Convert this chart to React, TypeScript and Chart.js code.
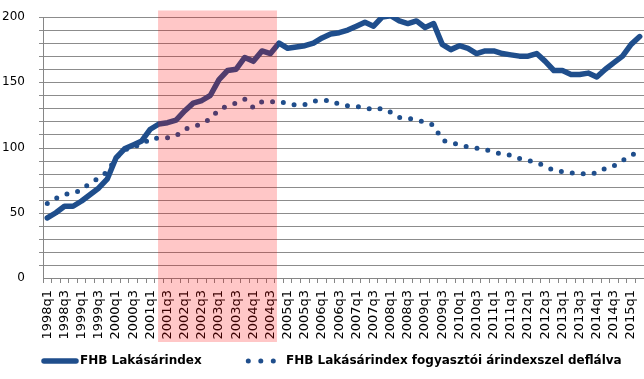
import { useEffect, useRef } from "react";
import { Chart, registerables } from "chart.js";

Chart.register(...registerables);

const quarters = [
  "1998q1", "1998q2", "1998q3", "1998q4",
  "1999q1", "1999q2", "1999q3", "1999q4",
  "2000q1", "2000q2", "2000q3", "2000q4",
  "2001q1", "2001q2", "2001q3", "2001q4",
  "2002q1", "2002q2", "2002q3", "2002q4",
  "2003q1", "2003q2", "2003q3", "2003q4",
  "2004q1", "2004q2", "2004q3", "2004q4",
  "2005q1", "2005q2", "2005q3", "2005q4",
  "2006q1", "2006q2", "2006q3", "2006q4",
  "2007q1", "2007q2", "2007q3", "2007q4",
  "2008q1", "2008q2", "2008q3", "2008q4",
  "2009q1", "2009q2", "2009q3", "2009q4",
  "2010q1", "2010q2", "2010q3", "2010q4",
  "2011q1", "2011q2", "2011q3", "2011q4",
  "2012q1", "2012q2", "2012q3", "2012q4",
  "2013q1", "2013q2", "2013q3", "2013q4",
  "2014q1", "2014q2", "2014q3", "2014q4",
  "2015q1", "2015q2",
];

const fhbIndex = [
  46, 50, 55, 55, 59, 64, 69, 76,
  92, 99, 102, 105, 114, 118, 119, 121,
  128, 134, 136, 140, 152, 159, 160, 169,
  166, 174, 172, 180, 176, 177, 178, 180,
  184, 187, 188, 190, 193, 196, 193, 200,
  201, 197, 195, 197, 192, 195, 179, 175,
  178, 176, 172, 174, 174, 172, 171, 170,
  170, 172, 166, 159, 159, 156, 156, 157,
  154, 160, 165, 170, 179, 185,
];

const fhbDeflated = [
  57, 61, 64, 65, 67.5, 73, 76.5, 81.5,
  92, 98, 101, 102, 107, 107, 107.5, 109,
  114, 116, 118, 122, 129, 132, 134, 137,
  130.5, 135, 135, 135.5, 133.5, 132.5, 133, 135.5,
  136, 136, 133, 132, 131.5, 130.5, 129, 130,
  127, 123, 122.5, 121, 119.5, 117, 105.5, 104,
  102, 100.5, 99.5, 98.5, 96.5, 95, 94, 91.5,
  90, 88.5, 85.5, 82.5, 81.5, 80.5, 80, 79.5,
  80.5, 84, 86, 90, 94, 97,
];

const yMin = 0;
const yMax = 200;
const yGridStep = 10;
const yTickLabels = [0, 50, 100, 150, 200];
const seriesNames = [
  "FHB Lakásárindex",
  "FHB Lakásárindex fogyasztói árindexszel deflálva",
];
const shadedFrom = "2001q2";
const shadedTo = "2004q4";

const BLUE = "#1f4e8c";
const AXIS = "#868686";
const GRID = "#8c8c8c";

const gridPlugin = {
  id: "hgrid",
  beforeDatasetsDraw(chart: any) {
    const ys = chart.scales.y;
    const ctx = chart.ctx;
    const { left, right } = chart.chartArea;
    ctx.save();
    ctx.fillStyle = GRID;
    for (let v = yMin + yGridStep; v <= yMax; v += yGridStep) {
      const py = Math.round(ys.getPixelForValue(v));
      ctx.fillRect(left - 4, py, right - left + 4, 1);
    }
    ctx.fillStyle = AXIS;
    const top = Math.round(ys.getPixelForValue(yMax));
    const bottom = Math.round(ys.getPixelForValue(yMin));
    ctx.fillRect(Math.round(left), top, 1, bottom - top);
    ctx.restore();
  },
};

const bandPlugin = {
  id: "band",
  afterDatasetsDraw(chart: any) {
    const xs = chart.scales.x;
    const ys = chart.scales.y;
    const ctx = chart.ctx;
    const left = xs.getPixelForValue(quarters.indexOf(shadedFrom) - 0.1);
    const right = xs.getPixelForValue(quarters.indexOf(shadedTo) - 0.25);
    const top = ys.getPixelForValue(205);
    const bottom = xs.top + 64;
    ctx.save();
    ctx.fillStyle = "rgba(255,0,0,0.22)";
    ctx.fillRect(left, top, right - left, bottom - top);
    ctx.restore();
  },
};

const legendPlugin = {
  id: "customLegend",
  afterDraw(chart: any) {
    const ctx = chart.ctx;
    const y = 361;
    ctx.save();
    ctx.strokeStyle = BLUE;
    ctx.lineCap = "round";
    ctx.lineWidth = 5.5;
    ctx.beginPath();
    ctx.moveTo(44, y);
    ctx.lineTo(76, y);
    ctx.stroke();
    ctx.lineWidth = 5;
    ctx.setLineDash([0, 12.5]);
    ctx.beginPath();
    ctx.moveTo(248.3, y);
    ctx.lineTo(275, y);
    ctx.stroke();
    ctx.setLineDash([]);
    ctx.fillStyle = "#000";
    ctx.font = 'bold 12px "DejaVu Sans"';
    ctx.textBaseline = "middle";
    ctx.textAlign = "left";
    ctx.fillText(seriesNames[0], 80, y);
    ctx.fillText(seriesNames[1], 286, y);
    ctx.restore();
  },
};

export default function App() {
  const ref = useRef<HTMLCanvasElement | null>(null);

  useEffect(() => {
    if (!ref.current) return;
    const chart = new Chart(ref.current, {
      type: "line",
      data: {
        labels: quarters,
        datasets: [
          {
            label: seriesNames[0],
            data: fhbIndex,
            borderColor: BLUE,
            backgroundColor: BLUE,
            borderWidth: 5.5,
            pointRadius: 0,
            borderJoinStyle: "round",
            borderCapStyle: "round",
            tension: 0,
            fill: false,
          },
          {
            label: seriesNames[1],
            data: fhbDeflated,
            borderColor: BLUE,
            backgroundColor: BLUE,
            borderWidth: 5,
            pointRadius: 0,
            borderDash: [0, 11],
            borderCapStyle: "round",
            tension: 0,
            fill: false,
          },
        ],
      },
      options: {
        animation: false,
        responsive: false,
        devicePixelRatio: 1,
        layout: { padding: { top: 17, right: 0, bottom: 0, left: 0 } },
        plugins: {
          legend: { display: false },
          tooltip: { enabled: false },
        },
        scales: {
          x: {
            type: "category",
            offset: true,
            grid: {
              display: true,
              drawOnChartArea: false,
              drawTicks: true,
              tickLength: 5,
              offset: true,
              color: AXIS,
            },
            border: { color: AXIS },
            ticks: {
              autoSkip: false,
              maxRotation: 90,
              minRotation: 90,
              padding: 7,
              color: "#000",
              font: { family: "DejaVu Sans", size: 13 },
              callback: (_v: any, i: number) => (i % 2 === 0 ? quarters[i] : ""),
            },
            afterFit: (s: any) => {
              s.height = 101;
              s.paddingLeft = 0;
              s.paddingRight = 0;
            },
          },
          y: {
            min: yMin,
            max: yMax,
            grid: { display: false },
            border: { display: false },
            ticks: {
              stepSize: 50,
              autoSkip: false,
              padding: 10,
              color: "#000",
              font: { family: "DejaVu Sans", size: 12 },
              callback: (v: any) => (yTickLabels.includes(Number(v)) ? String(v) : ""),
            },
            afterFit: (s: any) => {
              s.width = 43;
              s.paddingTop = 0;
              s.paddingBottom = 0;
            },
          },
        },
      },
      plugins: [gridPlugin, bandPlugin, legendPlugin],
    });
    return () => chart.destroy();
  }, []);

  return (
    <div style={{ position: "absolute", left: 0, top: 0, width: 644, height: 379 }}>
      <canvas ref={ref} width={644} height={379} style={{ display: "block" }} />
    </div>
  );
}
